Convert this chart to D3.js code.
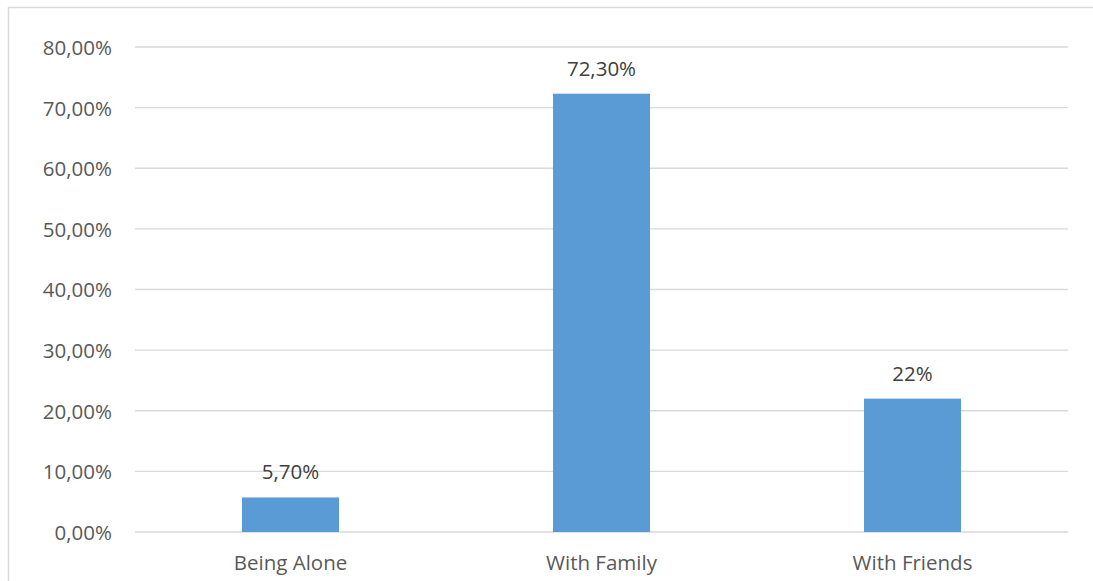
<!DOCTYPE html>
<html>
<head>
<meta charset="utf-8">
<script src="https://cdn.jsdelivr.net/npm/d3@7"></script>
<style>
  html, body { margin: 0; padding: 0; background: #fff; }
  svg { display: block; }
</style>
</head>
<body>
<svg id="chart" width="1093" height="581"></svg>
<script>
const categories = ["Being Alone", "With Family", "With Friends"];
const values = [0.057, 0.723, 0.22];
const valueLabels = ["5,70%", "72,30%", "22%"];
const yTicks = [0, 0.1, 0.2, 0.3, 0.4, 0.5, 0.6, 0.7, 0.8];
const yTickLabels = ["0,00%", "10,00%", "20,00%", "30,00%", "40,00%", "50,00%", "60,00%", "70,00%", "80,00%"];

const svg = d3.select("#chart");
const font = "'Open Sans', sans-serif";

// chart border
svg.append("rect")
  .attr("x", 8.5).attr("y", 7.5)
  .attr("width", 1100).attr("height", 600)
  .attr("fill", "none").attr("stroke", "#d9d9d9").attr("stroke-width", 1.5);

const x = d3.scaleBand().domain(categories).range([135, 1068])
  .paddingInner(0.688).paddingOuter(0.344);
const y = d3.scaleLinear().domain([0, 0.8]).range([532, 47]);

// gridlines
svg.append("g").selectAll("line").data(yTicks).join("line")
  .attr("x1", 135).attr("x2", 1068)
  .attr("y1", d => y(d)).attr("y2", d => y(d))
  .attr("stroke", "#d9d9d9").attr("stroke-width", 1.3);

// y axis labels
const yAxis = d3.axisLeft(y).tickValues(yTicks)
  .tickFormat((d, i) => yTickLabels[i]).tickSize(0).tickPadding(0);
const gy = svg.append("g").attr("transform", "translate(112,0)").call(yAxis);
gy.select(".domain").remove();
gy.selectAll("text").attr("font-family", font).attr("font-size", 20.5)
  .attr("fill", "#595959").attr("dy", "0.36em");

// bars
svg.append("g").selectAll("rect").data(values).join("rect")
  .attr("x", (d, i) => x(categories[i]))
  .attr("width", x.bandwidth())
  .attr("y", d => y(d))
  .attr("height", d => y(0) - y(d))
  .attr("fill", "#5b9bd5");

// data labels
svg.append("g").selectAll("text").data(values).join("text")
  .attr("x", (d, i) => x(categories[i]) + x.bandwidth() / 2)
  .attr("y", d => y(d) - 18)
  .attr("text-anchor", "middle")
  .attr("font-family", font).attr("font-size", 20.5)
  .attr("fill", "#404040")
  .text((d, i) => valueLabels[i]);

// x axis labels
const xAxis = d3.axisBottom(x).tickSize(0).tickPadding(0);
const gx = svg.append("g").attr("transform", "translate(0,570)").call(xAxis);
gx.select(".domain").remove();
gx.selectAll("text").attr("font-family", font).attr("font-size", 20.5)
  .attr("fill", "#595959").attr("dy", 0);
</script>
</body>
</html>
